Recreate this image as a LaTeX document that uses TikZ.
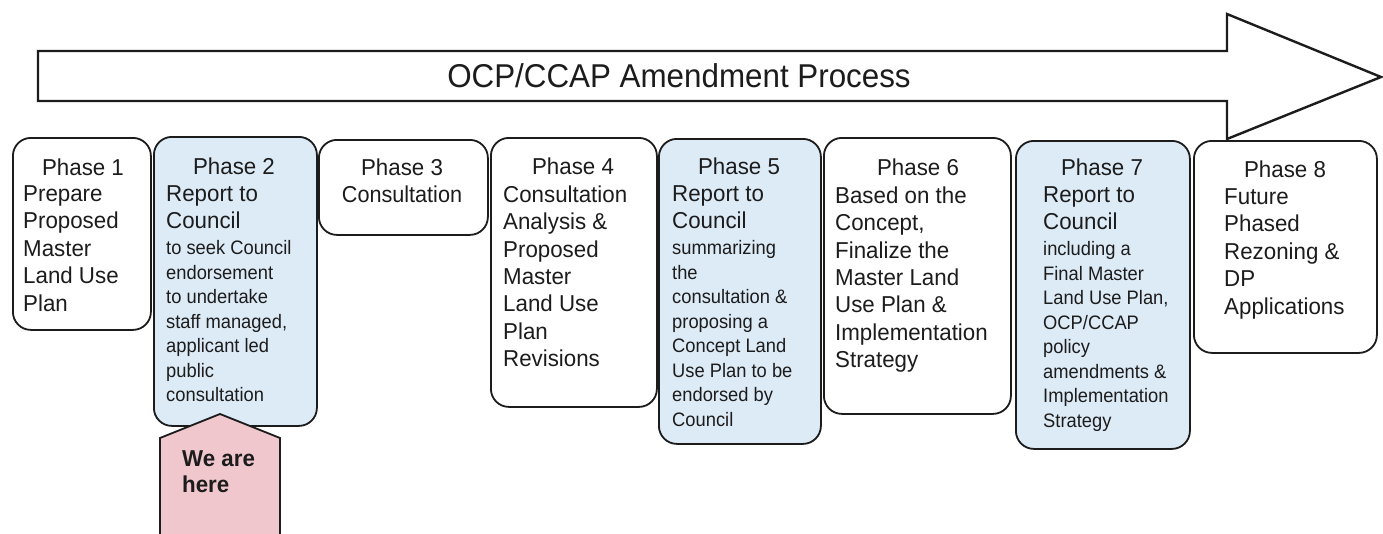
\documentclass[tikz,border=0pt]{standalone}
\usepackage{fontspec}
\setmainfont{Liberation Sans}[FakeStretch=0.97]
\newfontfamily\narrowf[FakeStretch=0.94]{Liberation Sans}
\newfontfamily\titlef[FakeStretch=0.95]{Liberation Sans}
\definecolor{pblue}{RGB}{221,235,247}
\definecolor{ppink}{RGB}{241,199,206}
\definecolor{ink}{RGB}{28,28,28}
\newcommand\bigtxt{\fontsize{23}{27.4}\selectfont}
\newcommand\smalltxt{\narrowf\fontsize{19.5}{24.5}\selectfont}
\newcommand\lne[1]{\hbox{#1}}
\tikzset{
  phasebox/.style={draw=ink, line width=1.8pt, rounded corners=18pt, anchor=north west, inner sep=0pt},
  bluebox/.style={phasebox, fill=pblue},
  titletxt/.style={anchor=base, inner sep=0pt, font=\bigtxt, text=ink},
  bodytxt/.style={anchor=north west, inner sep=0pt, font=\bigtxt, text=ink},
}
\begin{document}
\begin{tikzpicture}[x=1pt,y=-1pt]
\useasboundingbox (0,0) rectangle (1383,533);
\clip (0,0) rectangle (1383,533);
\fill[white] (0,0) rectangle (1383,533);

% big process arrow
\draw[ink, line width=2.4pt, line join=miter, fill=white]
  (38,51) -- (1227,51) -- (1227,14) -- (1381,77) -- (1227,139) -- (1227,101) -- (38,101) -- cycle;
\node[anchor=base, inner sep=0pt, font=\titlef\fontsize{33}{38}\selectfont, text=ink] (arrtxt) at (679,87) {OCP/CCAP Amendment Process};

% phase boxes
\node[phasebox, minimum width=138pt, minimum height=192pt] (p1) at (12,137) {};
\node[bluebox, minimum width=163pt, minimum height=289pt] (p2) at (153,136) {};
\node[phasebox, minimum width=169pt, minimum height=95pt] (p3) at (318,139) {};
\node[phasebox, minimum width=166pt, minimum height=269pt] (p4) at (490,137) {};
\node[bluebox, minimum width=162pt, minimum height=305pt] (p5) at (658,138) {};
\node[phasebox, minimum width=187pt, minimum height=276pt] (p6) at (823,137) {};
\node[bluebox, minimum width=174pt, minimum height=308pt] (p7) at (1015,140) {};
\node[phasebox, minimum width=183pt, minimum height=212pt] (p8) at (1193,140) {};

% titles
\node[titletxt] (p1t) at (83,175) {Phase 1};
\node[titletxt] (p2t) at (234,174) {Phase 2};
\node[titletxt] (p3t) at (402,175) {Phase 3};
\node[titletxt] (p4t) at (573,174) {Phase 4};
\node[titletxt] (p5t) at (739,174) {Phase 5};
\node[titletxt] (p6t) at (918,175) {Phase 6};
\node[titletxt] (p7t) at (1102,175) {Phase 7};
\node[titletxt] (p8t) at (1285,177) {Phase 8};

% bodies
\node[bodytxt] (p1b) at (23,185.5) {\vbox{\bigtxt\lne{Prepare}\lne{Proposed}\lne{Master}\lne{Land Use}\lne{Plan}}};
\node[bodytxt] (p2b) at (166,185.5) {\vbox{\bigtxt\lne{Report to}\lne{Council}\vskip1.5pt\smalltxt\lne{to seek Council}\lne{endorsement}\lne{to undertake}\lne{staff managed,}\lne{applicant led}\lne{public}\lne{consultation}}};
\node[titletxt, font=\narrowf\bigtxt] (p3b) at (402,202) {Consultation};
\node[bodytxt] (p4b) at (503,185.5) {\vbox{\bigtxt\lne{Consultation}\lne{Analysis \&}\lne{Proposed}\lne{Master}\lne{Land Use}\lne{Plan}\lne{Revisions}}};
\node[bodytxt] (p5b) at (672,185.5) {\vbox{\bigtxt\lne{Report to}\lne{Council}\vskip1.5pt\smalltxt\lne{summarizing}\lne{the}\lne{consultation \&}\lne{proposing a}\lne{Concept Land}\lne{Use Plan to be}\lne{endorsed by}\lne{Council}}};
\node[bodytxt] (p6b) at (835,186.5) {\vbox{\bigtxt\lne{Based on the}\lne{Concept,}\lne{Finalize the}\lne{Master Land}\lne{Use Plan \&}\lne{Implementation}\lne{Strategy}}};
\node[bodytxt] (p7b) at (1043,186.5) {\vbox{\bigtxt\lne{Report to}\lne{Council}\vskip1.5pt\smalltxt\lne{including a}\lne{Final Master}\lne{Land Use Plan,}\lne{OCP/CCAP}\lne{policy}\lne{amendments \&}\lne{Implementation}\lne{Strategy}}};
\node[bodytxt] (p8b) at (1224,188.5) {\vbox{\bigtxt\lne{Future}\lne{Phased}\lne{Rezoning \&}\lne{DP}\lne{Applications}}};

% we are here marker
\draw[ink, line width=1.8pt, fill=ppink, line join=miter]
  (160,545) -- (160,438) -- (220,414) -- (280,438) -- (280,545);
\node[anchor=north west, inner sep=0pt, font=\bfseries\fontsize{23}{26}\selectfont, text=ink] (here) at (182,450.5)
  {\vbox{\bfseries\fontsize{23}{26}\selectfont\lne{We are}\lne{here}}};
\end{tikzpicture}
\end{document}
